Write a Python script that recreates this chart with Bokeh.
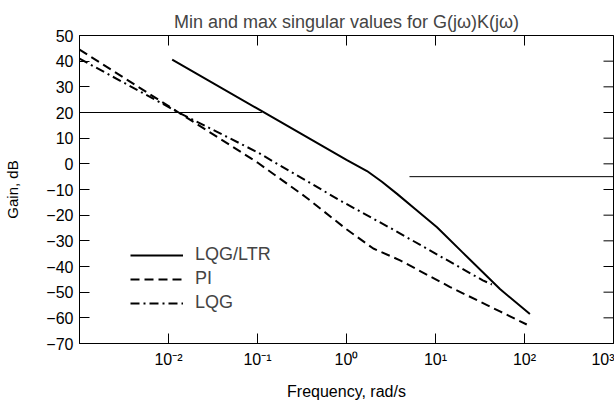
import math
from bokeh.plotting import figure
from bokeh.models import FixedTicker, Legend, LegendItem, Range1d
from bokeh.embed import file_html
from bokeh.resources import INLINE

FONT = "Liberation Sans"

# ---- data ----
ltr_freq = [0.011, 0.1, 1.0, 1.7, 2.5, 3.7, 6.0, 10.4, 20, 53, 115]
ltr_gain = [40.6, 21.5, 1.5, -2.8, -7.0, -11.7, -17.8, -24.7, -34.4, -48.8, -58.5]

pi_freq = [0.001, 0.013, 0.1, 0.35, 1.0, 2.0, 4.0, 14.6, 53, 106]
pi_gain = [44.5, 20.0, 0.5, -13.0, -25.5, -33.0, -37.6, -48.0, -57.5, -62.6]

lqg_freq = [0.001, 0.013, 0.1, 0.85, 3.5, 34, 43]
lqg_gain = [41.0, 20.0, 4.5, -14.3, -26.0, -45.4, -47.0]

upper_bound_freq = [0.001, 0.112]
upper_bound_gain = [20, 20]
lower_bound_freq = [5.1, 1000]
lower_bound_gain = [-5, -5]

series_labels = ["LQG/LTR", "PI", "LQG"]

x_min, x_max = 1e-3, 1e3
y_min, y_max = -70, 50

x_ticks = [0.01, 0.1, 1, 10, 100, 1000]
x_tick_labels = ["10\u207b\u00b2", "10\u207b\u00b9", "10\u2070", "10\u00b9", "10\u00b2", "10\u00b3"]
y_ticks = [50, 40, 30, 20, 10, 0, -10, -20, -30, -40, -50, -60, -70]
y_tick_labels = ["50", "40", "30", "20", "10", "0", "\u221210", "\u221220", "\u221230",
                 "\u221240", "\u221250", "\u221260", "\u221270"]

title_text = "Min and max singular values for G(j\u03c9)K(j\u03c9)"
x_label = "Frequency, rad/s"
y_label = "Gain, dB"

p = figure(width=614, height=404, x_axis_type="log",
           x_range=Range1d(x_min, x_max), y_range=Range1d(y_min, y_max),
           output_backend="svg", toolbar_location=None,
           min_border_left=79, min_border_right=1, min_border_top=35, min_border_bottom=61,
           title=title_text)

p.title.align = "center"
p.title.text_font = FONT
p.title.text_font_size = "18px"
p.title.text_font_style = "normal"
p.title.standoff = 7

p.grid.visible = False
p.outline_line_color = "black"
p.outline_line_width = 1
p.background_fill_color = "white"
p.border_fill_color = "white"

def style_axis(ax):
    ax.major_tick_in = 10
    ax.major_tick_out = 0
    ax.minor_tick_in = 0
    ax.minor_tick_out = 0
    ax.axis_line_color = "black"
    ax.major_tick_line_color = "black"
    ax.major_label_text_font = FONT
    ax.major_label_text_color = "black"
    ax.axis_label_text_font = FONT
    ax.axis_label_text_font_style = "normal"
    ax.axis_label_text_color = "black"

xax = p.xaxis[0]
xax.ticker = FixedTicker(ticks=x_ticks)
xax.major_label_overrides = {t: l for t, l in zip(x_ticks, x_tick_labels)}
style_axis(xax)
xax.major_label_text_font_size = "16px"
xax.major_label_standoff = 7
xax.axis_label = x_label
xax.axis_label_text_font_size = "16px"
xax.axis_label_standoff = 12

yax = p.yaxis[0]
yax.ticker = FixedTicker(ticks=y_ticks)
yax.major_label_overrides = {t: l for t, l in zip(y_ticks, y_tick_labels)}
style_axis(yax)
yax.major_label_text_font_size = "16px"
yax.major_label_standoff = 6
yax.axis_label = y_label
yax.axis_label_text_font_size = "15px"
yax.axis_label_standoff = 22

# mirrored inward ticks on the top and right edges (clipped to the frame)
p.scatter(x=x_ticks, y=[y_max] * len(x_ticks), marker="dash", angle=math.pi / 2,
          size=20, line_color="black", line_width=1)
p.scatter(x=[x_max] * len(y_ticks), y=y_ticks, marker="dash",
          size=20, line_color="black", line_width=1)

# reference bounds
p.line(upper_bound_freq, upper_bound_gain, line_color="black", line_width=1)
p.line(lower_bound_freq, lower_bound_gain, line_color="black", line_width=1)

r1 = p.line(ltr_freq, ltr_gain, line_color="black", line_width=2)
r2 = p.line(pi_freq, pi_gain, line_color="black", line_width=2, line_dash="9 5")
r3 = p.line(lqg_freq, lqg_gain, line_color="black", line_width=2, line_dash="9 4 2 4")

legend = Legend(items=[LegendItem(label=series_labels[0], renderers=[r1]),
                       LegendItem(label=series_labels[1], renderers=[r2]),
                       LegendItem(label=series_labels[2], renderers=[r3])],
                location=(51, 30), glyph_width=53, glyph_height=20, label_height=20,
                label_standoff=12, spacing=3, padding=0, margin=0,
                border_line_alpha=0, background_fill_alpha=0,
                label_text_font=FONT, label_text_font_size="18px")
p.add_layout(legend)

open("out.html", "w").write(file_html(p, INLINE))
